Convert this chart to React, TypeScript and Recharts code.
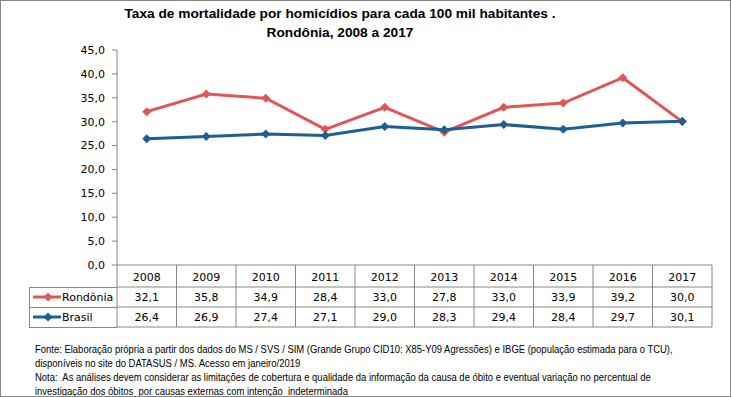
import React from 'react';
import { LineChart, Line, XAxis, YAxis } from 'recharts';

const years = ['2008', '2009', '2010', '2011', '2012', '2013', '2014', '2015', '2016', '2017'];
const rondonia = [32.1, 35.8, 34.9, 28.4, 33.0, 27.8, 33.0, 33.9, 39.2, 30.0];
const brasil = [26.4, 26.9, 27.4, 27.1, 29.0, 28.3, 29.4, 28.4, 29.7, 30.1];
const yTicks = [0, 5, 10, 15, 20, 25, 30, 35, 40, 45];

const data = years.map((year, i) => ({ idx: i, year, rondonia: rondonia[i], brasil: brasil[i] }));
const xTicks = years.map((_, i) => i);

const RED = '#DE5656';
const BLUE = '#1D5E93';
const GRID = '#868686';
const FONT = '"DejaVu Sans", Verdana, sans-serif';
const NOTE_FONT = '"Liberation Sans", Arial, sans-serif';

const W = 731;
const H = 397;
const PLOT_LEFT = 117;
const PLOT_RIGHT = 19;
const BAND = (W - PLOT_LEFT - PLOT_RIGHT) / years.length;
const ROW = 20;
const HEAD = 22;

const fmt = (v: number) => v.toFixed(1).replace('.', ',');

const Diamond = (props: any) => {
  const { cx, cy, color } = props;
  if (cx == null || cy == null) return null;
  const r = 4.5;
  return <polygon points={`${cx},${cy - r} ${cx + r},${cy} ${cx},${cy + r} ${cx - r},${cy}`} fill={color} />;
};

// x axis ticks draw the data table columns under each year
const TableTick = (props: any) => {
  const { x, y, payload } = props;
  const i = Number(payload.value);
  const left = x - BAND / 2;
  const right = x + BAND / 2;
  const bottom = y + HEAD + ROW * 2;
  return (
    <g>
      <line x1={right} y1={y} x2={right} y2={bottom} stroke={GRID} />
      {i === 0 && <line x1={left} y1={y} x2={left} y2={bottom} stroke={GRID} />}
      <line x1={left} y1={y + HEAD} x2={right} y2={y + HEAD} stroke={GRID} />
      <line x1={left} y1={y + HEAD + ROW} x2={right} y2={y + HEAD + ROW} stroke={GRID} />
      <line x1={left} y1={bottom} x2={right} y2={bottom} stroke={GRID} />
      <text x={x} y={y + HEAD / 2 + 1} textAnchor="middle" dominantBaseline="central" fontSize={11} fontFamily={FONT} fill="#000">
        {years[i]}
      </text>
      <text x={x} y={y + HEAD + ROW / 2} textAnchor="middle" dominantBaseline="central" fontSize={11} fontFamily={FONT} fill="#000">
        {fmt(rondonia[i])}
      </text>
      <text x={x} y={y + HEAD + ROW * 1.5} textAnchor="middle" dominantBaseline="central" fontSize={11} fontFamily={FONT} fill="#000">
        {fmt(brasil[i])}
      </text>
    </g>
  );
};

const LegendRow = ({ top, color, label }: { top: number; color: string; label: string }) => (
  <svg style={{ position: 'absolute', left: 29, top, overflow: 'visible' }} width={88} height={ROW}>
    <line x1={4} y1={ROW / 2} x2={32} y2={ROW / 2} stroke={color} strokeWidth={3} />
    <Diamond cx={19} cy={ROW / 2} color={color} />
    <text x={33} y={ROW / 2} dominantBaseline="central" fontSize={11} fontFamily={FONT} fill="#000">
      {label}
    </text>
  </svg>
);

export default function App() {
  const axisY = 265;
  return (
    <div style={{ position: 'absolute', left: 0, top: 0, width: W, height: H, background: '#fff', overflow: 'hidden' }}>
      <LineChart
        width={W}
        height={H}
        data={data}
        margin={{ top: 50, right: PLOT_RIGHT, left: 0, bottom: H - axisY - 62 }}
      >
        <XAxis
          dataKey="idx"
          type="number"
          domain={[-0.5, years.length - 0.5]}
          ticks={xTicks}
          stroke={GRID}
          tickLine={false}
          tickSize={0}
          tickMargin={0}
          height={62}
          interval={0}
          tick={<TableTick />}
        />
        <YAxis
          domain={[0, 45]}
          ticks={yTicks}
          width={PLOT_LEFT}
          stroke={GRID}
          tickSize={5}
          tickMargin={7}
          tickFormatter={fmt}
          tick={{ fontSize: 11, fontFamily: FONT, fill: '#000' }}
        />
        <Line dataKey="rondonia" stroke={RED} strokeWidth={3} dot={<Diamond color={RED} />} activeDot={false} isAnimationActive={false} />
        <Line dataKey="brasil" stroke={BLUE} strokeWidth={3} dot={<Diamond color={BLUE} />} activeDot={false} isAnimationActive={false} />
      </LineChart>

      {/* title */}
      <div style={{ position: 'absolute', left: 0, width: 680, top: 4, textAlign: 'center', fontFamily: '"Liberation Sans", Arial, sans-serif', fontWeight: 'bold', fontSize: 13.7, lineHeight: '19px', color: '#000' }}>
        <div>Taxa de mortalidade por homicídios para cada 100 mil habitantes .</div>
        <div>Rondônia, 2008 a 2017</div>
      </div>

      {/* legend cell of the data table */}
      <div style={{ position: 'absolute', left: 29, top: axisY + HEAD, width: PLOT_LEFT - 29, height: ROW * 2 + 1, border: `1px solid ${GRID}`, borderRight: 'none', boxSizing: 'border-box' }} />
      <div style={{ position: 'absolute', left: 29, top: axisY + HEAD + ROW, width: PLOT_LEFT - 29, height: 1, background: GRID }} />
      <LegendRow top={axisY + HEAD} color={RED} label="Rondônia" />
      <LegendRow top={axisY + HEAD + ROW} color={BLUE} label="Brasil" />

      {/* notes */}
      <div style={{ position: 'absolute', left: 35, top: 342, fontFamily: NOTE_FONT, fontSize: 11, lineHeight: '14px', color: '#000', whiteSpace: 'nowrap', transform: 'scaleX(0.86)', transformOrigin: 'left top' }}>
        <div>Fonte: Elaboração própria a partir dos dados do MS / SVS / SIM (Grande Grupo CID10: X85-Y09 Agressões) e IBGE (população estimada para o TCU),</div>
        <div>disponíveis no site do DATASUS / MS. Acesso em janeiro/2019</div>
        <div>Nota:&nbsp; As análises devem considerar as limitações de cobertura e qualidade da informação da causa de óbito e eventual variação no percentual de</div>
        <div>investigação dos óbitos&nbsp; por causas externas com intenção&nbsp; indeterminada</div>
      </div>

      {/* frame */}
      <div style={{ position: 'absolute', left: 0, top: 0, width: W, height: H, border: `1px solid ${GRID}`, boxSizing: 'border-box', pointerEvents: 'none' }} />
    </div>
  );
}
